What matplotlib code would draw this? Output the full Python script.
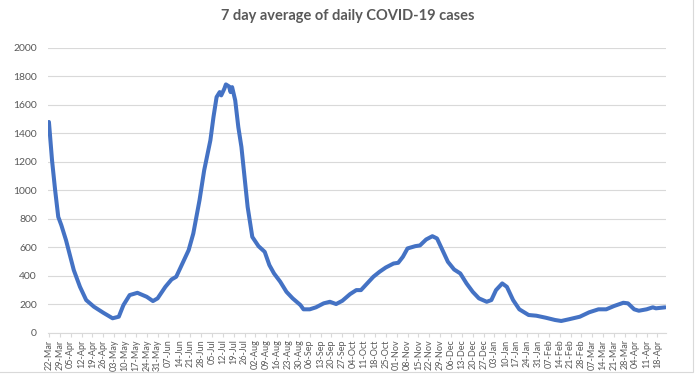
import matplotlib
matplotlib.use("Agg")
import matplotlib.pyplot as plt
import matplotlib.dates as mdates
from matplotlib.patches import Rectangle
import pandas as pd

# ------------------ DATA ------------------

start_date = "2020-03-22"
last_tick = "2021-04-18"

# days after start_date, and the 7 day average at that day
day_offset = [0, 2, 4, 6, 8, 11, 16, 20, 24, 29, 35, 41, 45, 48, 52, 57, 63, 67, 70,
              75, 79, 82, 85, 90, 93, 97, 100, 104, 106, 108, 110, 111, 113, 114, 116,
              117, 118, 120, 122, 124, 126, 128, 131, 135, 139, 142, 145, 149, 153, 157,
              162, 164, 168, 172, 177, 181, 185, 189, 194, 198, 201, 205, 209, 213, 217,
              222, 225, 228, 231, 236, 239, 243, 247, 250, 253, 257, 261, 265, 269, 273,
              277, 282, 285, 288, 292, 295, 299, 303, 309, 314, 320, 326, 330, 335, 342,
              348, 354, 359, 364, 370, 373, 377, 380, 385, 389, 391, 397]
cases_avg = [1480, 1210, 1000, 813, 754, 649, 439, 321, 228, 181, 139, 100, 111, 193, 263,
             279, 251, 221, 240, 321, 373, 392, 462, 579, 696, 930, 1140, 1351, 1515, 1655,
             1690, 1667, 1714, 1744, 1730, 1690, 1725, 1632, 1444, 1304, 1093, 883, 672,
             607, 567, 474, 415, 357, 286, 240, 193, 163, 163, 177, 205, 216, 200, 223,
             270, 298, 298, 345, 392, 427, 457, 485, 490, 532, 591, 607, 612, 654, 677,
             661, 591, 497, 443, 415, 345, 286, 240, 216, 228, 298, 345, 321, 228, 163,
             123, 118, 104, 88, 81, 93, 111, 142, 163, 163, 186, 209, 205, 163, 153, 163,
             177, 170, 177]

y_ticks = [0, 200, 400, 600, 800, 1000, 1200, 1400, 1600, 1800, 2000]

title = "7 day average of daily COVID-19 cases"

# ------------------ PLOT ------------------

plt.rcParams['font.family'] = ['Lato', 'DejaVu Sans']

t0 = pd.Timestamp(start_date)
dates = t0 + pd.to_timedelta(day_offset, unit="D")
tick_dates = pd.date_range(start_date, last_tick, freq="7D")

fig = plt.figure(figsize=(6.96, 3.75), dpi=100)
ax = fig.add_axes([48 / 696, 1 - 332.5 / 375, (666 - 48) / 696, (332.5 - 48) / 375])

ax.plot(dates, cases_avg, color="#4472C4", lw=2.9, solid_joinstyle="round",
        solid_capstyle="round")

ax.set_ylim(0, 2000)
ax.set_yticks(y_ticks)
ax.set_xlim(t0 - pd.Timedelta(days=0.6), t0 + pd.Timedelta(days=397.5))
ax.set_xticks(tick_dates)
ax.xaxis.set_major_formatter(mdates.DateFormatter("%d-%b"))

ax.grid(axis="y", color="#d9d9d9", lw=0.8)
ax.set_axisbelow(True)
for side in ["top", "right", "left"]:
    ax.spines[side].set_visible(False)
ax.spines["bottom"].set_color("#d9d9d9")

ax.tick_params(axis="y", length=0, labelsize=7.5, labelcolor="#595959", pad=8)
ax.tick_params(axis="x", length=3, color="#d9d9d9", labelsize=6.5,
               labelcolor="#595959", rotation=90, pad=2)

fig.text(0.5, 1 - 16 / 375, title, ha="center", va="center", fontsize=10.5,
         fontweight="bold", color="#595959")

# light chart border
fig.patches.append(Rectangle((-0.01, 3 / 375), 693 / 696 + 0.01, 1.0,
                             transform=fig.transFigure, fill=False,
                             edgecolor="#d9d9d9", lw=0.8))

fig.savefig("out.png", dpi=100)
